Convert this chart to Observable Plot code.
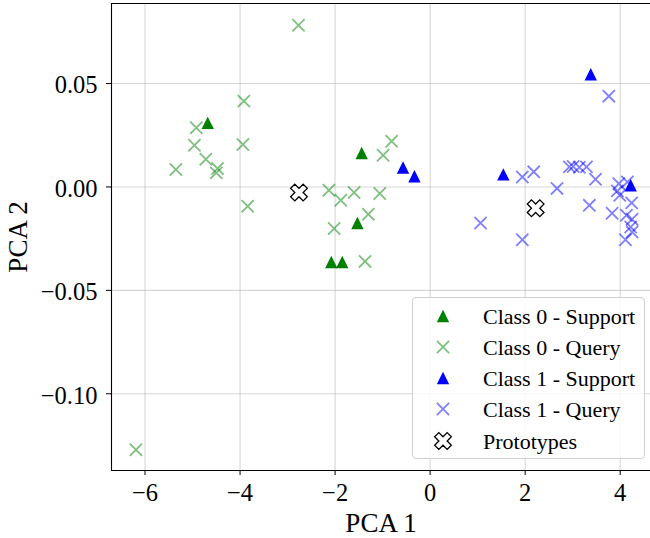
<!DOCTYPE html>
<html>
<head>
<meta charset="utf-8">
<script src="https://cdn.jsdelivr.net/npm/d3@7"></script>
<script src="https://cdn.jsdelivr.net/npm/@observablehq/plot@0.6"></script>
<style>
  html, body { margin: 0; padding: 0; background: white; overflow: hidden; }
  #wrap { position: relative; width: 650px; height: 538px; font-family: "Liberation Serif", "Times New Roman", serif; }
  #wrap svg { display: block; }
  #wrap svg text { font-family: "Liberation Serif", "Times New Roman", serif !important; font-variant-numeric: normal !important; }
  #wrap svg g[aria-label="x-axis tick label"], #wrap svg g[aria-label="x-axis tick label"] text,
  #wrap svg g[aria-label="y-axis tick label"], #wrap svg g[aria-label="y-axis tick label"] text { font-size: 24.5px !important; }
  #wrap svg g[aria-label="x-axis label"], #wrap svg g[aria-label="x-axis label"] text,
  #wrap svg g[aria-label="y-axis label"], #wrap svg g[aria-label="y-axis label"] text { font-size: 27px !important; }
  #legend { position: absolute; left: 412px; top: 297px; width: 233px; height: 162px; box-sizing: border-box;
            border: 1px solid #d0d0d0; border-radius: 4px; background: rgba(255,255,255,0.8); }
  .row { position: absolute; left: 0; height: 31px; width: 100%; }
  .row svg { position: absolute; left: 20px; top: 5px; }
  .row span { position: absolute; left: 70px; top: 0; line-height: 31px; font-size: 22px; color: black; white-space: nowrap;
              font-family: "Liberation Serif", "Times New Roman", serif; }
</style>
</head>
<body>
<div id="wrap"></div>
<script>
// ---- data ----
const c0SupportX = [-4.68, -1.44, -1.53, -2.08, -1.85];
const c0SupportY = [0.0310, 0.0164, -0.0174, -0.0363, -0.0363];

const c0QueryX = [-2.77, -3.92, -4.92, -4.96, -3.94, -4.72, -4.475, -4.50, -5.35, -3.84,
                  -2.13, -1.88, -1.60, -1.06, -1.30, -2.02, -0.99, -0.81, -1.37, -6.19];
const c0QueryY = [0.0782, 0.0415, 0.0286, 0.0202, 0.0205, 0.0134, 0.0089, 0.0068, 0.0084, -0.0093,
                  -0.0016, -0.0064, -0.0027, -0.0032, -0.0132, -0.0201, 0.0153, 0.0221, -0.0360, -0.1271];

const c1SupportX = [3.38, -0.57, -0.33, 1.54, 4.22];
const c1SupportY = [0.0545, 0.0094, 0.0052, 0.0061, 0.0008];

const c1QueryX = [3.76, 1.94, 2.18, 2.67, 2.93, 3.01, 3.14, 3.29, 3.48, 3.35, 3.83, 3.97,
                  4.15, 3.94, 3.99, 4.24, 4.13, 4.25, 4.22, 4.25, 4.11, 1.06, 1.94];
const c1QueryY = [0.0439, 0.0048, 0.0073, -0.0007, 0.0097, 0.0099, 0.0095, 0.0097, 0.0037, -0.0089, -0.0127, 0.0016,
                  0.0024, -0.0019, -0.0040, -0.0077, -0.0137, -0.0156, -0.0194, -0.0218, -0.0255, -0.0174, -0.0255];

const protoX = [-2.76, 2.22];
const protoY = [-0.0027, -0.0103];

const xTicks = [-6, -4, -2, 0, 2, 4];
const yTicks = [0.05, 0.00, -0.05, -0.10];
const xDomain = [-6.705, 4.637];
const yDomain = [-0.1371, 0.0887];

const legendLabels = ["Class 0 - Support", "Class 0 - Query", "Class 1 - Support", "Class 1 - Query", "Prototypes"];

// ---- styles ----
const GREEN = "#008000", BLUE = "#0000ff";
const SERIF = '"Liberation Serif", "Times New Roman", serif';

const pts = (xs, ys) => xs.map((x, i) => ({x, y: ys[i]}));

// matplotlib-like markers
const triSym = {draw(ctx) { const h = 6.2; ctx.moveTo(0, -h); ctx.lineTo(h, h); ctx.lineTo(-h, h); ctx.closePath(); }};
const crossSym = {draw(ctx) { const h = 6.1; ctx.moveTo(-h, -h); ctx.lineTo(h, h); ctx.moveTo(-h, h); ctx.lineTo(h, -h); }};
const plusPts = [[-1,-3],[1,-3],[1,-1],[3,-1],[3,1],[1,1],[1,3],[-1,3],[-1,1],[-3,1],[-3,-1],[-1,-1]];
const xFilledSym = {draw(ctx) {
  const k = 2.95, s = Math.SQRT1_2;
  plusPts.forEach(([a, b], i) => {
    const px = (a - b) * s * k, py = (a + b) * s * k;
    if (i === 0) ctx.moveTo(px, py); else ctx.lineTo(px, py);
  });
  ctx.closePath();
}};

const chart = Plot.plot({
  width: 650,
  height: 538,
  marginLeft: 111,
  marginRight: 0,
  marginTop: 3,
  marginBottom: 68,
  style: {fontFamily: SERIF, fontSize: "24.5px", color: "black", background: "transparent", overflow: "visible"},
  x: {domain: xDomain},
  y: {domain: yDomain},
  marks: [
    Plot.gridX(xTicks, {stroke: "#b0b0b0", strokeOpacity: 0.5, strokeWidth: 1.1}),
    Plot.gridY(yTicks, {stroke: "#b0b0b0", strokeOpacity: 0.5, strokeWidth: 1.1}),
    Plot.axisX(xTicks, {tickSize: 5, tickPadding: 8.5, tickFormat: d3.format("d"), label: null}),
    Plot.axisX({ticks: [], tickSize: 0, label: "PCA 1", labelAnchor: "center", labelArrow: "none", labelOffset: 61}),
    Plot.axisY(yTicks, {tickSize: 5, tickFormat: () => "", label: null}),
    Plot.axisY(yTicks, {tickSize: 0, tickPadding: 14, dy: 2, tickFormat: d3.format(".2f"), label: null}),
    Plot.axisY({ticks: [], tickSize: 0, label: "PCA 2", labelAnchor: "center", labelArrow: "none", labelOffset: 104}),
    Plot.ruleX([xDomain[0]], {stroke: "black", strokeWidth: 1.1}),
    Plot.ruleY([yDomain[0], yDomain[1]], {stroke: "black", strokeWidth: 1.1}),
    Plot.dot(pts(c0SupportX, c0SupportY), {x: "x", y: "y", symbol: triSym, fill: GREEN, stroke: "none", r: 6}),
    Plot.dot(pts(c0QueryX, c0QueryY), {x: "x", y: "y", symbol: crossSym, fill: "none", stroke: GREEN, strokeOpacity: 0.5, strokeWidth: 1.8, r: 6}),
    Plot.dot(pts(c1SupportX, c1SupportY), {x: "x", y: "y", symbol: triSym, fill: BLUE, stroke: "none", r: 6}),
    Plot.dot(pts(c1QueryX, c1QueryY), {x: "x", y: "y", symbol: crossSym, fill: "none", stroke: BLUE, strokeOpacity: 0.5, strokeWidth: 1.8, r: 6}),
    Plot.dot(pts(protoX, protoY), {x: "x", y: "y", symbol: xFilledSym, fill: "white", stroke: "black", strokeWidth: 1.3, r: 8})
  ]
});

const wrap = document.getElementById("wrap");
wrap.appendChild(chart);

// ---- legend (HTML overlay) ----
const legend = document.createElement("div");
legend.id = "legend";
const markerSvgs = [
  `<path d="M10,3.8L16.2,16.2L3.8,16.2Z" fill="${GREEN}"/>`,
  `<path d="M3.9,3.9L16.1,16.1M3.9,16.1L16.1,3.9" stroke="${GREEN}" stroke-opacity="0.5" stroke-width="1.8" fill="none"/>`,
  `<path d="M10,3.8L16.2,16.2L3.8,16.2Z" fill="${BLUE}"/>`,
  `<path d="M3.9,3.9L16.1,16.1M3.9,16.1L16.1,3.9" stroke="${BLUE}" stroke-opacity="0.5" stroke-width="1.8" fill="none"/>`,
  null
];
{
  const k = 2.95, s = Math.SQRT1_2;
  const d = "M" + plusPts.map(([a, b]) => `${10 + (a - b) * s * k},${10 + (a + b) * s * k}`).join("L") + "Z";
  markerSvgs[4] = `<path d="${d}" fill="white" stroke="black" stroke-width="1.3"/>`;
}
legendLabels.forEach((lab, i) => {
  const row = document.createElement("div");
  row.className = "row";
  row.style.top = (2.5 + i * 31.3) + "px";
  row.innerHTML = `<svg width="20" height="20" viewBox="0 0 20 20">${markerSvgs[i]}</svg><span>${lab}</span>`;
  legend.appendChild(row);
});
wrap.appendChild(legend);
</script>
</body>
</html>
